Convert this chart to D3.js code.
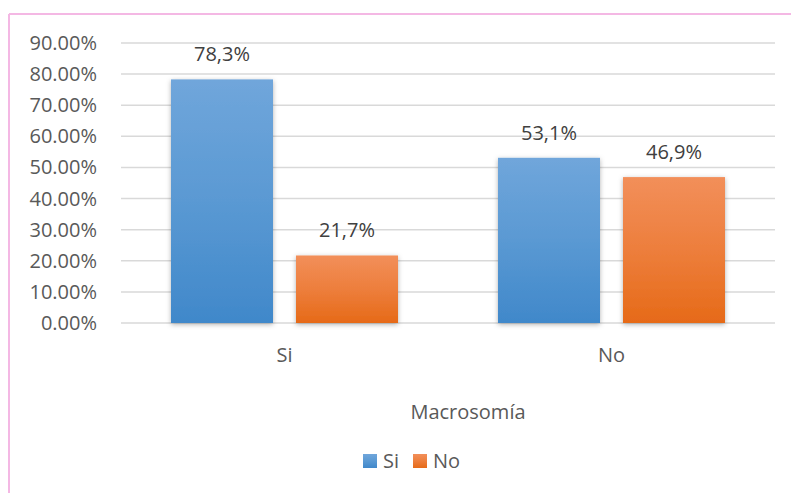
<!DOCTYPE html>
<html>
  <head>
    <meta charset="utf-8" />
    <script src="https://d3js.org/d3.v7.min.js"></script>
    <style>
      body { margin: 0; background: #fff; }
      text { font-family: "Open Sans", "Noto Sans", sans-serif; fill: #595959; }
      .grid line { stroke: #d9d9d9; stroke-width: 1.5; }
    </style>
  </head>
  <body>
    <svg id="chart" width="791" height="493"></svg>
    <script>
      // data
      const categories = ["Si", "No"];
      const seriesNames = ["Si", "No"];
      const siValues = [78.3, 53.1];
      const noValues = [21.7, 46.9];
      const valueLabels = [["78,3%", "21,7%"], ["53,1%", "46,9%"]];
      const yTicks = [0, 10, 20, 30, 40, 50, 60, 70, 80, 90];
      const axisTitle = "Macrosomía";

      const svg = d3.select("#chart");

      // pink frame (only top and left show)
      svg.append("line").attr("x1", 9).attr("x2", 791).attr("y1", 14).attr("y2", 14)
        .attr("stroke", "#f4b8e4").attr("stroke-width", 2);
      svg.append("line").attr("x1", 9).attr("x2", 9).attr("y1", 14).attr("y2", 493)
        .attr("stroke", "#f4b8e4").attr("stroke-width", 2);

      const x = d3.scaleBand().domain(categories).range([121, 775]);
      const inner = d3.scaleBand().domain(seriesNames)
        .range([0, x.bandwidth()]).paddingInner(0.184).paddingOuter(0.4);
      const y = d3.scaleLinear().domain([0, 90]).range([323, 43]);

      // gradients + shadow
      const defs = svg.append("defs");
      const grads = [["gSi", "#70a6db", "#4088ca"], ["gNo", "#f28f5a", "#e66a18"]];
      grads.forEach(([id, top, bot]) => {
        const g = defs.append("linearGradient").attr("id", id)
          .attr("x1", 0).attr("x2", 0).attr("y1", 0).attr("y2", 1);
        g.append("stop").attr("offset", "0%").attr("stop-color", top);
        g.append("stop").attr("offset", "50%").attr("stop-color", d3.interpolateRgb(top, bot)(0.45));
        g.append("stop").attr("offset", "100%").attr("stop-color", bot);
      });
      const f = defs.append("filter").attr("id", "shadow")
        .attr("x", "-20%").attr("y", "-10%").attr("width", "140%").attr("height", "130%");
      f.append("feDropShadow").attr("dx", 0).attr("dy", 1.5)
        .attr("stdDeviation", 2.5).attr("flood-color", "#000").attr("flood-opacity", 0.3);

      // gridlines
      svg.append("g").attr("class", "grid")
        .selectAll("line").data(yTicks).join("line")
        .attr("x1", 121).attr("x2", 775)
        .attr("y1", d => y(d)).attr("y2", d => y(d));

      // y tick labels
      svg.append("g").selectAll("text").data(yTicks).join("text")
        .attr("x", 97).attr("y", d => y(d)).attr("dy", "0.35em")
        .attr("text-anchor", "end").attr("font-size", 20)
        .text(d => d3.format(".2f")(d) + "%");

      // bars
      const rows = categories.map((c, i) => ({
        cat: c,
        vals: [
          { s: "Si", v: siValues[i], lbl: valueLabels[i][0] },
          { s: "No", v: noValues[i], lbl: valueLabels[i][1] }
        ]
      }));
      const groups = svg.append("g").selectAll("g").data(rows).join("g")
        .attr("transform", d => `translate(${x(d.cat)},0)`);
      groups.selectAll("rect").data(d => d.vals).join("rect")
        .attr("x", d => inner(d.s)).attr("width", inner.bandwidth())
        .attr("y", d => y(d.v)).attr("height", d => y(0) - y(d.v))
        .attr("fill", d => d.s === "Si" ? "url(#gSi)" : "url(#gNo)")
        .attr("filter", "url(#shadow)");
      groups.selectAll("text").data(d => d.vals).join("text")
        .attr("x", d => inner(d.s) + inner.bandwidth() / 2)
        .attr("y", d => y(d.v) - 18)
        .attr("text-anchor", "middle").attr("font-size", 20)
        .style("fill", "#404040")
        .text(d => d.lbl);

      // category labels
      svg.append("g").selectAll("text").data(categories).join("text")
        .attr("x", d => x(d) + x.bandwidth() / 2).attr("y", 355).attr("dy", "0.35em")
        .attr("text-anchor", "middle").attr("font-size", 20)
        .text(d => d);

      // axis title
      svg.append("text").attr("x", 468).attr("y", 412).attr("dy", "0.35em")
        .attr("text-anchor", "middle").attr("font-size", 20).text(axisTitle);

      // legend
      const legend = svg.append("g").selectAll("g").data(seriesNames).join("g")
        .attr("transform", (d, i) => `translate(${363 + i * 50},461)`);
      legend.append("rect").attr("x", 0).attr("y", -7).attr("width", 14).attr("height", 14)
        .attr("fill", d => d === "Si" ? "url(#gSi)" : "url(#gNo)");
      legend.append("text").attr("x", 20).attr("y", 0).attr("dy", "0.35em")
        .attr("font-size", 20).text(d => d);
    </script>
  </body>
</html>
